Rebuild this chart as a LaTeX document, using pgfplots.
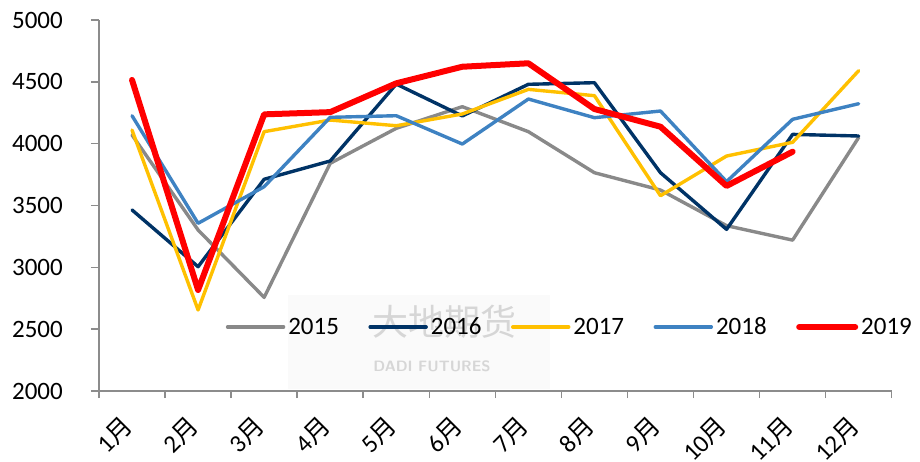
\documentclass[border=0pt]{standalone}
\usepackage{fontspec}
\setmainfont{Carlito}
\newfontfamily\cjk{Noto Sans CJK SC}
\usepackage{pgfplots}
\pgfplotsset{compat=1.18}

\definecolor{c15}{HTML}{898989}
\definecolor{c16}{HTML}{003366}
\definecolor{c17}{HTML}{FFC000}
\definecolor{c18}{HTML}{3E82C2}
\definecolor{c19}{HTML}{FF0000}
\definecolor{axgray}{HTML}{8C8C8C}

\newcommand{\lblfont}{\fontsize{25bp}{30bp}\selectfont}

\begin{document}
\begin{tikzpicture}
\path[use as bounding box] (-99bp,-71bp) rectangle (821bp,391bp);
\begin{axis}[
    at={(0,0)}, anchor=south west,
    scale only axis, width=792.7bp, height=371bp,
    xmin=0, xmax=12, ymin=2000, ymax=5000,
    axis lines*=left,
    axis line style={axgray, line width=1.5bp},
    tick align=outside,
    major tick length=8bp, minor tick length=7bp,
    xtick={0.5,1.5,...,11.5},
    xticklabels={1{\cjk 月},2{\cjk 月},3{\cjk 月},4{\cjk 月},5{\cjk 月},6{\cjk 月},
                 7{\cjk 月},8{\cjk 月},9{\cjk 月},10{\cjk 月},11{\cjk 月},12{\cjk 月}},
    minor xtick={0,1,...,12},
    major x tick style={draw=none},
    minor x tick style={axgray, line width=1.5bp},
    ytick={2000,2500,...,5000},
    y tick style={axgray, line width=1.5bp},
    xticklabel style={xshift=-4bp, yshift=-22bp, rotate=45, anchor=east, inner sep=0pt, font=\lblfont},
    yticklabel style={anchor=east, inner sep=0pt, xshift=-28bp, font=\lblfont},
    /pgf/number format/assume math mode=true,
    /pgf/number format/1000 sep={},
    legend columns=5,
    legend style={at={(0.1598,0.1725)}, anchor=west, draw=none, fill=none,
        inner sep=0pt, font=\lblfont, nodes={inner sep=0pt},
        /tikz/every odd column/.append style={column sep=3bp},
        /tikz/every even column/.append style={column sep=29.5bp}},
    legend image code/.code={\draw[#1] (0bp,0bp) -- (56bp,0bp);},
    every axis plot/.append style={line join=round, line cap=round},
]
% faint watermark
\fill[black!2] (axis cs:2.86,2020) rectangle (axis cs:6.83,2780);
\node[anchor=west, text=black!16, font=\cjk\fontsize{36bp}{36bp}\selectfont] at (axis cs:4.08,2560) {大地期货};
\node[anchor=west, text=black!16, font=\bfseries\sffamily\fontsize{15bp}{15bp}\selectfont] at (axis cs:4.1,2200) {DADI FUTURES};

\addplot[c15, line width=3.4bp] coordinates {
 (0.5,4070) (1.5,3302) (2.5,2757) (3.5,3841) (4.5,4124) (5.5,4299)
 (6.5,4097) (7.5,3765) (8.5,3625) (9.5,3337) (10.5,3220) (11.5,4050)};
\addlegendentry{2015}
\addplot[c16, line width=3.4bp] coordinates {
 (0.5,3464) (1.5,3005) (2.5,3712) (3.5,3860) (4.5,4482) (5.5,4224)
 (6.5,4480) (7.5,4493) (8.5,3765) (9.5,3307) (10.5,4075) (11.5,4062)};
\addlegendentry{2016}
\addplot[c17, line width=3.4bp] coordinates {
 (0.5,4110) (1.5,2655) (2.5,4097) (3.5,4191) (4.5,4145) (5.5,4240)
 (6.5,4439) (7.5,4388) (8.5,3579) (9.5,3900) (10.5,4011) (11.5,4590)};
\addlegendentry{2017}
\addplot[c18, line width=3.4bp] coordinates {
 (0.5,4226) (1.5,3356) (2.5,3652) (3.5,4213) (4.5,4226) (5.5,3997)
 (6.5,4361) (7.5,4210) (8.5,4264) (9.5,3693) (10.5,4197) (11.5,4323)};
\addlegendentry{2018}
\addplot[c19, line width=6bp] coordinates {
 (0.5,4515) (1.5,2817) (2.5,4237) (3.5,4255) (4.5,4488) (5.5,4622)
 (6.5,4650) (7.5,4280) (8.5,4137) (9.5,3658) (10.5,3935)};
\addlegendentry{2019}
\end{axis}
\end{tikzpicture}
\end{document}
